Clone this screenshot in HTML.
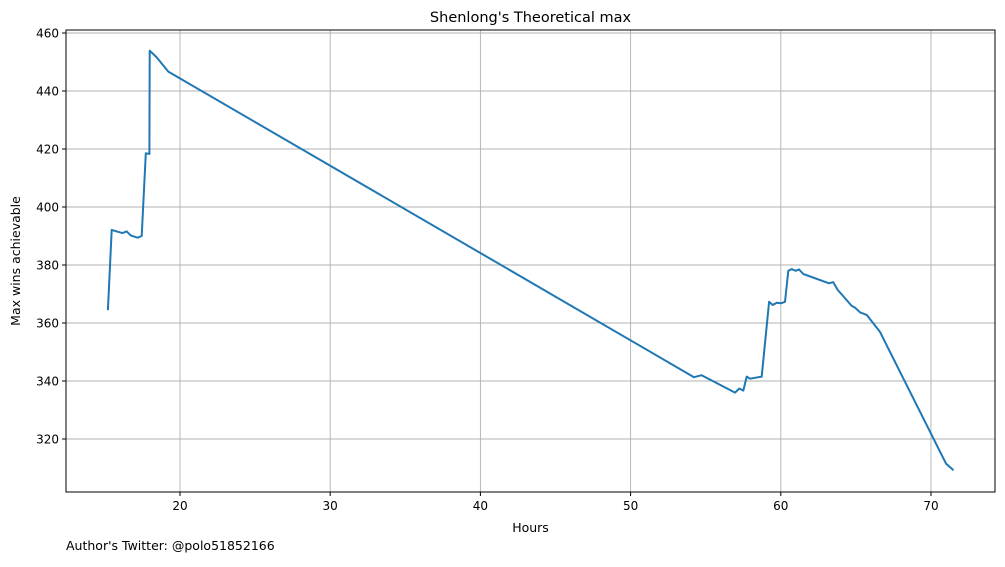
<!DOCTYPE html>
<html><head><meta charset="utf-8"><style>
body{margin:0;background:#fff;font-family:"Liberation Sans","DejaVu Sans",sans-serif;}
svg text{font-family:"DejaVu Sans","Liberation Sans",sans-serif;}
</style></head><body>
<svg id="chart" width="1005" height="562" xmlns="http://www.w3.org/2000/svg">
<rect width="1005" height="562" fill="#fff"/>
<g id="grid"></g><g id="ticks"></g>
<path id="line" fill="none" stroke="#1f77b4" stroke-width="2" stroke-linejoin="round"/>
<rect x="66" y="30" width="929" height="462" fill="none" stroke="#000" stroke-width="1"/>
<text x="530.5" y="22" text-anchor="middle" font-size="14.5">Shenlong's Theoretical max</text>
<text x="530.5" y="532" text-anchor="middle" font-size="12.5">Hours</text>
<text transform="translate(20,261) rotate(-90)" text-anchor="middle" font-size="12.5">Max wins achievable</text>
<text x="66" y="550" font-size="12.5">Author's Twitter: @polo51852166</text>
</svg>
<script>
const xs=[15.2,15.45,16.16,16.45,16.72,17.18,17.45,17.72,17.96,17.98,18.45,19.22,54.22,54.73,56.95,57.24,57.5,57.73,57.95,58.73,59.22,59.46,59.73,60.01,60.28,60.5,60.72,60.99,61.21,61.5,63.21,63.49,63.79,64.72,64.94,65.27,65.72,66.6,71.0,71.5];
const ys=[364.4,392.1,391.0,391.6,390.2,389.4,390.0,418.5,418.3,453.9,451.6,446.7,341.3,342.0,336.0,337.4,336.7,341.5,340.8,341.5,367.3,366.2,367.0,366.8,367.3,378.0,378.6,378.0,378.5,376.9,373.7,374.1,371.4,365.9,365.3,363.7,362.8,357.0,311.5,309.2];
const xTicks=[20,30,40,50,60,70];
const yTicks=[320,340,360,380,400,420,440,460];
const X=v=>180+(v-20)*15.02;
const Y=v=>33+(460-v)*2.9;
const NS="http://www.w3.org/2000/svg";
const grid=document.getElementById('grid'),tk=document.getElementById('ticks');
function mk(tag,attrs,parent){const e=document.createElementNS(NS,tag);for(const k in attrs)e.setAttribute(k,attrs[k]);parent.appendChild(e);return e;}
xTicks.forEach(t=>{const x=X(t);
 const g=mk('line',{x1:x,x2:x,y1:30,y2:492,stroke:'#b0b0b0','stroke-width':0.9},grid);
 
 
 mk('line',{x1:x,x2:x,y1:492,y2:496,stroke:'#000'},tk);
 const l=mk('text',{x:x,y:510,'text-anchor':'middle','font-size':12},tk);l.textContent=t;
 
 });
yTicks.forEach(t=>{const y=Y(t);
 const g=mk('line',{x1:66,x2:995,y1:y,y2:y,stroke:'#b0b0b0','stroke-width':0.9},grid);
 
 
 mk('line',{x1:62,x2:66,y1:y,y2:y,stroke:'#000'},tk);
 const l=mk('text',{x:59,y:y+4.5,'text-anchor':'end','font-size':12},tk);l.textContent=t;
 
 });
document.getElementById('line').setAttribute('d',xs.map((v,i)=>(i?'L':'M')+X(v).toFixed(1)+','+Y(ys[i]).toFixed(1)).join(''));
</script>
</body></html>
